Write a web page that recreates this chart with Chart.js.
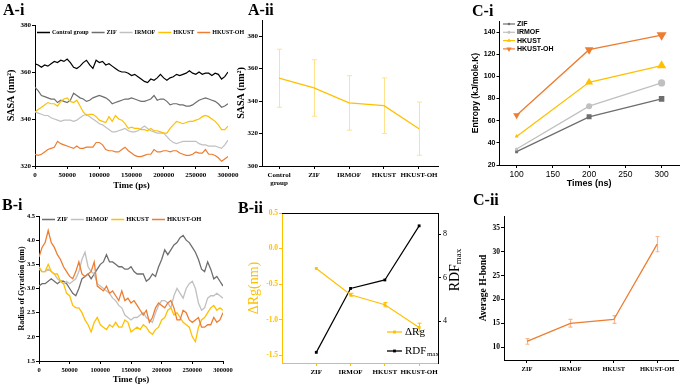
<!DOCTYPE html>
<html><head><meta charset="utf-8">
<script src="https://cdn.jsdelivr.net/npm/chart.js@4.4.1/dist/chart.umd.min.js"></script>
<style>
html,body{margin:0;padding:0;background:#fff;}
#wrap{position:relative;width:685px;height:385px;overflow:hidden;background:#fff;}
#wrap canvas{position:absolute;left:0;top:0;}
.lbl{position:absolute;font-family:"Liberation Serif","Times New Roman",serif;font-weight:bold;font-size:16px;line-height:1;color:#000;white-space:nowrap;}
</style></head><body>
<div id="wrap">
<canvas id="cA1" width="685" height="385"></canvas>
<canvas id="cA2" width="685" height="385"></canvas>
<canvas id="cB1" width="685" height="385"></canvas>
<canvas id="cB2" width="685" height="385"></canvas>
<canvas id="cC1" width="685" height="385"></canvas>
<canvas id="cC2" width="685" height="385"></canvas>
<div class="lbl" style="left:3px;top:2px">A-i</div>
<div class="lbl" style="left:248px;top:2px">A-ii</div>
<div class="lbl" style="left:472px;top:3px">C-i</div>
<div class="lbl" style="left:2px;top:197px">B-i</div>
<div class="lbl" style="left:238px;top:200px">B-ii</div>
<div class="lbl" style="left:473px;top:192px">C-ii</div>
</div>
<script>
// ---------------- DATA ----------------
const times = [0,5000,10000,15000,20000,25000,30000,35000,40000,45000,
  50000,55000,60000,65000,70000,75000,80000,85000,90000,95000,
  100000,105000,110000,115000,120000,125000,130000,135000,140000,145000,
  150000,155000,160000,165000,170000,175000,180000,185000,190000,195000,
  200000,205000,210000,215000,220000,225000,230000,235000,240000,245000,
  250000,255000,260000,265000,270000,275000,280000,285000,290000,295000,
  300000];

const seriesNamesA1 = ['Control group','ZIF','IRMOF','HKUST','HKUST-OH'];
const sasaControl = [363.5,363,362,363,362.5,363.5,364.5,364,365,364.5,
  365.5,364,362,361.5,362.5,364,365,363,361.5,365,
  364,364.5,363,363.5,362.5,361.5,360.5,360,360,359.5,
  358.5,359,358,357,356,355.5,357,356.5,357.5,359,
  357.5,356.5,357.5,358,359,358.5,359,359.5,360.5,359.5,
  359,360,359,359.5,359.5,358.5,359.5,359,357,358,
  360];
const sasaZIF = [353.5,352,350,349.5,349,348.5,348.5,347,348,347.5,
  347,348,351,350,349,348.5,347.5,348,349,349.5,
  350,349.5,349,348,346.5,347,347.5,348,348.5,348.5,
  349,348.5,348,347.5,347.5,348,348.5,350,348,348.5,
  348.5,347.5,346,346.5,346.5,346,346,345.5,345.5,346,
  347,348,348.5,349,348.5,348,347.5,346.5,345,345.5,
  346.5];
const sasaIRMOF = [343,342.5,342,341.5,341.5,340.5,340,339.5,339,339.5,
  339.5,339.5,339,339.5,340.5,341.5,342,341,340,339,
  338,337.5,336.5,335.5,334.5,334.5,335,335.5,336,335,
  334.5,334.5,335,336,337,336,335,334.5,334,334,
  334,332.5,331,330,329.5,330,330.5,330.5,330.5,330.5,
  330.5,329.5,329,329,328.5,328.5,328.5,328,327.5,329,
  331];
const sasaHKUST = [343,344,345,346,347,346.5,346.5,345.5,347.5,348.5,
  349,347.5,347,348,345.5,343,341.5,342,342,341,
  339.5,339,338.5,341,339,341.5,340,339.5,338,336,
  336.5,336,336,335.5,335.5,335,336,335,335,334.5,
  334,334,336,337.5,339,338.5,338,338.5,339,339,
  339.5,340,341,341.5,341,340,339,337.5,335.5,335.5,
  337];
const sasaHKUSTOH = [325,324.5,325,326,327,327.5,328,330.5,329.5,329,
  328.5,328,327.5,328.5,327.5,327.5,328,328,328,330,
  330,329,327,326.5,326.5,326,326,327,328,326.5,
  325.5,324.5,324,324,324.5,325,325,327,326,326,
  326.5,326.5,326,326.5,326.5,325.5,325,324.5,324.5,325,
  326,325.5,325.5,327,325,325,324.5,323.5,322,323,
  324];

const catsA2 = ['Control group','ZIF','IRMOF','HKUST','HKUST-OH'];
const sasaMean = [354.1,348.1,338.9,337.2,323.0];
const sasaErr = [17.9,17.4,16.8,17.1,16.4];

const seriesNamesB1 = ['ZIF','IRMOF','HKUST','HKUST-OH'];
const rgZIF = [3.05,3.1,3.1,3.15,3.2,3.15,3.1,3.15,3.15,3.1,
  3.0,2.9,2.85,3.0,3.2,3.25,3.3,3.2,3.3,3.4,
  3.5,3.55,3.7,3.55,3.55,3.5,3.45,3.45,3.4,3.4,
  3.45,3.35,3.3,3.3,3.3,3.15,3.2,3.3,3.25,3.45,
  3.6,3.8,3.7,3.8,3.9,3.95,4.05,4.1,4.0,3.95,
  3.85,3.75,3.6,3.4,3.35,3.55,3.4,3.2,3.25,3.15,
  3.05];
const rgIRMOF = [3.4,3.35,3.35,3.4,3.35,3.3,3.2,3.15,3.1,3.15,
  3.1,3.15,3.2,3.35,3.6,3.75,3.45,3.35,3.3,3.1,
  3.05,3.0,2.95,2.9,2.8,2.75,2.65,2.6,2.45,2.4,
  2.35,2.4,2.4,2.45,2.5,2.4,2.35,2.3,2.5,2.65,
  2.75,2.75,2.7,2.6,2.85,3.0,2.9,2.8,3.0,3.1,
  3.15,3.0,2.7,2.55,2.6,2.8,2.85,2.85,2.9,2.85,
  2.8];
const rgHKUST = [3.45,3.35,3.35,3.5,3.35,3.3,3.3,3.15,3.1,2.9,
  2.85,2.65,2.6,2.6,2.5,2.35,2.25,2.1,2.3,2.4,
  2.25,2.2,2.15,2.25,2.2,2.3,2.2,2.2,2.35,2.3,
  2.1,2.15,2.2,2.15,2.25,2.2,2.1,2.05,2.15,2.2,
  2.35,2.4,2.55,2.6,2.45,2.5,2.4,2.3,2.25,2.2,
  2.0,1.9,2.2,2.35,2.4,2.5,2.6,2.65,2.55,2.6,
  2.55];
const rgHKUSTOH = [3.65,3.85,3.95,4.2,3.95,3.85,3.7,3.6,3.45,3.35,
  3.25,3.2,3.35,3.55,3.3,3.25,3.3,3.35,3.55,3.05,
  3.0,2.95,3.05,2.9,2.95,2.85,2.75,2.95,2.75,2.8,
  2.7,2.75,2.65,2.55,2.45,2.55,2.3,2.4,2.6,2.7,
  2.65,2.6,2.7,2.75,2.6,2.35,2.35,2.55,2.5,2.35,
  2.3,2.35,2.4,2.2,2.2,2.25,2.25,2.4,2.3,2.35,
  2.5];

const catsB2 = ['ZIF','IRMOF','HKUST','HKUST-OH'];
const deltaRg = [-0.28,-0.65,-0.79,-1.11];
const deltaRgErr = [0,0.02,0.03,0.06];
const rdfMax = [2.56,5.5,5.89,8.38];

const entropyTimes = [100,200,300];
const entropyTicks = [100,150,200,250,300];
const seriesNamesC1 = ['ZIF','IRMOF','HKUST','HKUST-OH'];
const entZIF = [32,63.5,79.7];
const entIRMOF = [34.4,73.1,94.1];
const entHKUST = [45.8,94.7,109.7];
const entHKUSTOH = [65,124.1,137.3];

const catsC2 = ['ZIF','IRMOF','HKUST','HKUST-OH'];
const hbond = [11.2,15.0,15.8,31.6];
const hbondErr = [0.6,0.8,0.8,1.6];

// ---------------- STYLE / HELPERS ----------------
const SERIF = '"Liberation Serif","Times New Roman",serif';
const SANS = '"Liberation Sans",Arial,sans-serif';
const BLACK = '#000000', ZGRAY = '#6e6e6e', LGRAY = '#c0c0c0', GOLD = '#FFC000', ORANGE = '#ED7D31';
Chart.defaults.font.family = SERIF;
Chart.defaults.color = '#000';

function xy(xs, ys){ return ys.map((v,i)=>({x:xs[i], y:v})); }
function idx(ys, off){ return ys.map((v,i)=>({x:i+(off||0), y:v})); }

function drawMarker(ctx, style, x, y, r, color, rot){
  ctx.save(); ctx.translate(x,y); ctx.rotate((rot||0)*Math.PI/180);
  ctx.fillStyle = color; ctx.beginPath();
  if (style === 'rect'){ const s = r*Math.SQRT1_2; ctx.rect(-s,-s,2*s,2*s); }
  else if (style === 'triangle'){ ctx.moveTo(0,-r); ctx.lineTo(r*0.866,r*0.5); ctx.lineTo(-r*0.866,r*0.5); ctx.closePath(); }
  else { ctx.arc(0,0,r,0,Math.PI*2); }
  ctx.fill(); ctx.restore();
}

function makeLegend(cfg){
  return { id:'customLegend', afterDraw(chart){
    const ctx = chart.ctx; ctx.save();
    ctx.textBaseline = 'middle'; ctx.textAlign = 'left';
    let x = cfg.x, y = cfg.y;
    chart.data.datasets.forEach((ds,i)=>{
      ctx.strokeStyle = ds.borderColor; ctx.lineWidth = cfg.lw || 1.5;
      ctx.beginPath(); ctx.moveTo(x,y); ctx.lineTo(x+cfg.line,y); ctx.stroke();
      if (cfg.markers) drawMarker(ctx, ds.pointStyle, x+cfg.line/2, y, cfg.markers[i], ds.borderColor, ds.pointRotation);
      ctx.font = cfg.font; ctx.fillStyle = '#000';
      const tx = x + cfg.line + cfg.gap;
      ctx.fillText(ds.label, tx, y);
      let w = ctx.measureText(ds.label).width;
      if (ds.subLabel){
        ctx.font = cfg.subFont; ctx.fillText(ds.subLabel, tx+w+0.5, y+cfg.subDy);
        w += ctx.measureText(ds.subLabel).width + 0.5;
      }
      if (cfg.dir === 'h') x = tx + w + cfg.itemGap; else y += cfg.rowH;
    });
    ctx.restore();
  }};
}

function makeErr(cfg){
  return { id:'errorBars', beforeDatasetsDraw(chart){
    const ctx = chart.ctx;
    const meta = chart.getDatasetMeta(cfg.ds);
    const ys = chart.scales[meta.yAxisID];
    const data = chart.data.datasets[cfg.ds].data;
    ctx.save(); ctx.strokeStyle = cfg.color; ctx.lineWidth = cfg.lw || 1;
    meta.data.forEach((pt,i)=>{
      const e = cfg.errs[i]; if (!e) return;
      const v = data[i].y;
      const y1 = ys.getPixelForValue(v+e), y2 = ys.getPixelForValue(v-e);
      const x = Math.round(pt.x)+0.5;
      ctx.beginPath();
      ctx.moveTo(x,y1); ctx.lineTo(x,y2);
      ctx.moveTo(x-cfg.cap,y1); ctx.lineTo(x+cfg.cap,y1);
      ctx.moveTo(x-cfg.cap,y2); ctx.lineTo(x+cfg.cap,y2);
      ctx.stroke();
    });
    ctx.restore();
  }};
}

function axis(o){
  const a = {
    type: 'linear',
    min: o.min, max: o.max,
    position: o.position,
    afterFit: o.w !== undefined ? (s=>{ s.width = o.w; }) : (s=>{ s.height = o.h; }),
    ticks: {
      stepSize: o.step, includeBounds: false, autoSkip: false, maxRotation: 0, minRotation: 0,
      font: o.tickFont, color: o.tickColor || o.color || '#000', padding: o.pad !== undefined ? o.pad : 2,
      callback: o.cb || (v => String(v))
    },
    grid: { drawOnChartArea: false, drawTicks: true, tickLength: o.tl || 3, color: o.color || '#000', lineWidth: 1 },
    border: { display: true, color: o.color || '#000', width: 1 },
    title: o.title ? { display: true, text: o.title, font: o.titleFont, color: o.titleColor || o.color || '#000', padding: 0 } : { display: false }
  };
  if (o.ticksAt) a.afterBuildTicks = s => { s.ticks = o.ticksAt.map(v => ({value: v})); };
  return a;
}

const baseOpts = { responsive:false, animation:false, events:[], maintainAspectRatio:false };
const noPlug = { legend:{display:false}, tooltip:{enabled:false} };

function lineDs(label, data, color, extra){
  return Object.assign({ label, data, borderColor: color, backgroundColor: color, borderWidth: 1.2,
    pointRadius: 0, tension: 0, fill: false }, extra || {});
}

// ---------------- A-i ----------------
const colorsA1 = [BLACK, ZGRAY, LGRAY, GOLD, ORANGE];
const valsA1 = [sasaControl, sasaZIF, sasaIRMOF, sasaHKUST, sasaHKUSTOH];
new Chart(document.getElementById('cA1'), {
  type: 'line',
  data: { datasets: valsA1.map((v,i)=>lineDs(seriesNamesA1[i], xy(times, v), colorsA1[i], {order: 5-i})) },
  options: Object.assign({}, baseOpts, {
    layout: { padding: { left: 5, top: 25, right: 685-228, bottom: 385-166-25 } },
    plugins: noPlug,
    scales: {
      x: axis({min:0, max:300000, step:50000, h:25, tickFont:{size:7, weight:'bold'},
               title:'Time (ps)', titleFont:{size:9, weight:'bold'}}),
      y: axis({min:320, max:380, step:20, w:30, pad:1, tickFont:{size:7, weight:'bold'},
               title:'SASA (nm\u00B2)', titleFont:{size:10, weight:'bold'}})
    }
  }),
  plugins: [makeLegend({x:37, y:32.5, dir:'h', line:13, gap:2, itemGap:3, lw:1.5,
                        font:'bold 6px '+SERIF})]
});

// ---------------- A-ii ----------------
new Chart(document.getElementById('cA2'), {
  type: 'line',
  data: { datasets: [ lineDs('SASA', idx(sasaMean), GOLD, {borderWidth:1.3}) ] },
  options: Object.assign({}, baseOpts, {
    layout: { padding: { left: 235, top: 20, right: 685-438, bottom: 385-166-20 } },
    plugins: noPlug,
    scales: {
      x: axis({min:-0.486, max:4.543, h:20, ticksAt:[0,1,2,3,4], tickFont:{size:7, weight:'bold'},
               cb: v => catsA2[v].split(' ')}),
      y: axis({min:300, max:390, step:20, w:27, pad:1, tickFont:{size:7, weight:'bold'},
               title:'SASA (nm\u00B2)', titleFont:{size:10, weight:'bold'}})
    }
  }),
  plugins: [makeErr({ds:0, errs:sasaErr, color:'#FFE38C', cap:2.5, lw:1})]
});

// ---------------- B-i ----------------
const colorsB1 = [ZGRAY, LGRAY, GOLD, ORANGE];
const valsB1 = [rgZIF, rgIRMOF, rgHKUST, rgHKUSTOH];
new Chart(document.getElementById('cB1'), {
  type: 'line',
  data: { datasets: valsB1.map((v,i)=>lineDs(seriesNamesB1[i], xy(times, v), colorsB1[i], {order: 4-i, borderWidth:1.3})) },
  options: Object.assign({}, baseOpts, {
    layout: { padding: { left: 17, top: 216, right: 685-223, bottom: 0 } },
    plugins: noPlug,
    scales: {
      x: axis({min:0, max:300000, step:50000, h:24, tickFont:{size:6.5, weight:'bold'},
               title:'Time (ps)', titleFont:{size:9, weight:'bold'}}),
      y: axis({min:1.5, max:4.5, step:0.5, w:22, pad:1, tickFont:{size:6.5, weight:'bold'}, cb: v => v.toFixed(1),
               title:'Radius of Gyration (nm)', titleFont:{size:8, weight:'bold'}})
    }
  }),
  plugins: [makeLegend({x:42, y:219.5, dir:'h', line:13, gap:2, itemGap:3, lw:1.5,
                        font:'bold 6.5px '+SERIF})]
});

// ---------------- B-ii ----------------
const b2Extras = { id:'b2Extras', afterDraw(chart){
  const ctx = chart.ctx, a = chart.chartArea;
  ctx.save();
  ctx.strokeStyle = '#000'; ctx.lineWidth = 1;
  ctx.beginPath(); ctx.moveTo(a.left, Math.round(a.top)+0.5); ctx.lineTo(a.right, Math.round(a.top)+0.5); ctx.stroke();
  ctx.translate(455, 270); ctx.rotate(-Math.PI/2);
  ctx.textBaseline = 'middle'; ctx.textAlign = 'left'; ctx.fillStyle = '#000';
  ctx.font = '14px '+SERIF; const w1 = ctx.measureText('RDF').width;
  ctx.font = '9px '+SERIF; const w2 = ctx.measureText('max').width;
  const s = -(w1+w2)/2;
  ctx.font = '14px '+SERIF; ctx.fillText('RDF', s, 0);
  ctx.font = '9px '+SERIF; ctx.fillText('max', s+w1, 4);
  ctx.restore();
}};
new Chart(document.getElementById('cB2'), {
  type: 'line',
  data: { datasets: [
    lineDs('\u0394Rg', idx(deltaRg, 1), GOLD, {yAxisID:'y', pointStyle:'rect', pointRadius:2, pointBackgroundColor:GOLD, pointBorderWidth:0}),
    lineDs('RDF', idx(rdfMax, 1), BLACK, {yAxisID:'y2', subLabel:'max', pointStyle:'rect', pointRadius:2, pointBackgroundColor:BLACK, pointBorderWidth:0})
  ] },
  options: Object.assign({}, baseOpts, {
    layout: { padding: { left: 246, top: 213, right: 222, bottom: 0 } },
    plugins: noPlug,
    scales: {
      x: axis({min:0, max:4.55, h:22, ticksAt:[1,2,3,4], color:GOLD, tickColor:'#000', tickFont:{size:7, weight:'bold'},
               cb: v => catsB2[v-1]}),
      y: axis({min:-1.61, max:0.5, step:0.5, w:36, pad:1, color:GOLD, position:'left',
               tickFont:{size:7.5, weight:'bold'}, cb: v => v.toFixed(1),
               title:'\u0394Rg(nm)', titleFont:{size:14}, titleColor:GOLD}),
      y2: axis({min:2.07, max:8.97, step:2, w:25, pad:2, position:'right', tickFont:{size:8}})
    }
  }),
  plugins: [
    makeErr({ds:0, errs:deltaRgErr, color:GOLD, cap:2, lw:1}),
    makeLegend({x:387, y:332, dir:'v', rowH:19, line:15, gap:3, lw:1.3, markers:[2,2],
                font:'11px '+SERIF, subFont:'7px '+SERIF, subDy:3}),
    b2Extras
  ]
});

// ---------------- C-i ----------------
new Chart(document.getElementById('cC1'), {
  type: 'line',
  data: { datasets: [
    lineDs(seriesNamesC1[0], xy(entropyTimes, entZIF), ZGRAY, {borderWidth:1.3, pointStyle:'rect', pointRadius:[2.1,3.5,3.9], pointBackgroundColor:ZGRAY, pointBorderWidth:0, order:3}),
    lineDs(seriesNamesC1[1], xy(entropyTimes, entIRMOF), LGRAY, {borderWidth:1.3, pointStyle:'circle', pointRadius:[1.6,3,3.6], pointBackgroundColor:LGRAY, pointBorderWidth:0, order:2}),
    lineDs(seriesNamesC1[2], xy(entropyTimes, entHKUST), GOLD, {borderWidth:1.3, pointStyle:'triangle', pointRadius:[2.4,4.6,5.3], pointBackgroundColor:GOLD, pointBorderWidth:0, order:1}),
    lineDs(seriesNamesC1[3], xy(entropyTimes, entHKUSTOH), ORANGE, {borderWidth:1.3, pointStyle:'triangle', pointRotation:180, pointRadius:[4,5,5.8], pointBackgroundColor:ORANGE, pointBorderWidth:0, order:0})
  ] },
  options: Object.assign({}, baseOpts, {
    layout: { padding: { left: 471, top: 21, right: 2, bottom: 196 } },
    plugins: noPlug,
    scales: {
      x: axis({min:75.7, max:324.3, h:24, ticksAt:entropyTicks, tickFont:{family:SANS, size:8.5},
               title:'Times (ns)', titleFont:{family:SANS, size:9, weight:'bold'}}),
      y: axis({min:20, max:150, step:20, w:28, pad:1, tl:2.5, tickFont:{family:SANS, size:7, weight:'bold'},
               title:'Entropy (kJ/mole.K)', titleFont:{family:SANS, size:8.5, weight:'bold'}})
    }
  }),
  plugins: [makeLegend({x:503, y:24, dir:'v', rowH:8.3, line:12, gap:2, lw:1.2, markers:[1.6,1.5,2.4,3],
                        font:'bold 7px '+SANS})]
});

// ---------------- C-ii ----------------
new Chart(document.getElementById('cC2'), {
  type: 'line',
  data: { datasets: [ lineDs('H-bond', idx(hbond), ORANGE, {borderWidth:1.3}) ] },
  options: Object.assign({}, baseOpts, {
    layout: { padding: { left: 478, top: 216, right: 7, bottom: 5 } },
    plugins: noPlug,
    scales: {
      x: axis({min:-0.53, max:3.48, h:20, ticksAt:[0,1,2,3], tickFont:{size:6.5, weight:'bold'},
               cb: v => catsC2[v]}),
      y: axis({min:7.3, max:37.5, step:5, w:26, pad:1, tickFont:{size:7.5, weight:'bold'},
               title:'Average H-bond', titleFont:{size:9.5, weight:'bold'}})
    }
  }),
  plugins: [makeErr({ds:0, errs:hbondErr, color:'#F6B98F', cap:2, lw:1.2})]
});
</script>
</body></html>
